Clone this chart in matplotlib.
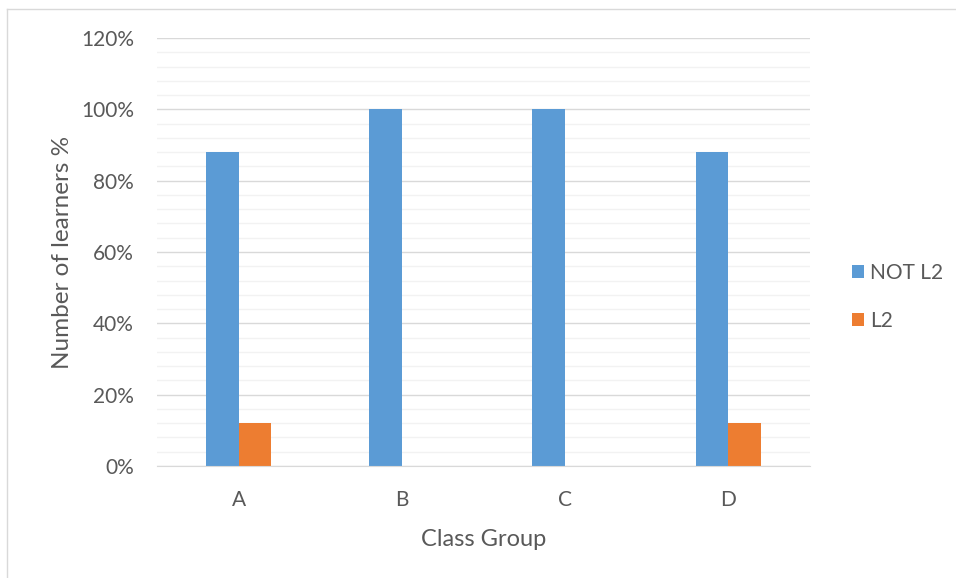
import matplotlib
matplotlib.use("Agg")
import matplotlib.pyplot as plt
import numpy as np
from matplotlib.ticker import MultipleLocator, FuncFormatter
from matplotlib.lines import Line2D

categories = ["A", "B", "C", "D"]
not_l2 = [88, 100, 100, 88]
l2 = [12, 0, 0, 12]
series_names = ["NOT L2", "L2"]
colors = ["#5B9BD5", "#ED7D31"]

plt.rcParams["font.family"] = ["Lato", "DejaVu Sans"]
text_color = "#595959"

fig = plt.figure(figsize=(9.56, 5.78), dpi=100)
ax = fig.add_axes([0.1642, 0.1938, 0.6831, 0.7405])

x = np.arange(len(categories))
w = 0.2
ax.bar(x - w / 2, not_l2, w, color=colors[0], label=series_names[0], zorder=3)
ax.bar(x + w / 2, l2, w, color=colors[1], label=series_names[1], zorder=3)

ax.set_xlim(-0.5, len(categories) - 0.5)
ax.set_ylim(0, 120)
ax.yaxis.set_major_locator(MultipleLocator(20))
ax.yaxis.set_minor_locator(MultipleLocator(4))
ax.yaxis.set_major_formatter(FuncFormatter(lambda v, p: f"{v:.0f}%"))
ax.grid(which="minor", axis="y", color="#F2F2F2", linewidth=1.0, zorder=0)
ax.grid(which="major", axis="y", color="#D9D9D9", linewidth=1.0, zorder=1)

ax.set_xticks(x)
ax.set_xticklabels(categories)
ax.tick_params(axis="both", which="both", length=0, labelsize=15, colors=text_color)
ax.tick_params(axis="x", pad=17)
ax.tick_params(axis="y", pad=16.5)

for s in ["top", "right", "left"]:
    ax.spines[s].set_visible(False)
ax.spines["bottom"].set_color("#D9D9D9")
ax.spines["bottom"].set_zorder(4)

ax.set_xlabel("Class Group", fontsize=17, color=text_color, labelpad=14)
ax.set_ylabel("Number of learners %", fontsize=17.5, color=text_color, labelpad=6)

ax.legend(loc="center left", bbox_to_anchor=(1.035, 0.395), frameon=False,
          fontsize=15, handlelength=0.6, handleheight=0.6,
          handletextpad=0.3, labelspacing=1.35, labelcolor=text_color)

# chart area border (left and top edges visible)
fig.add_artist(Line2D([0.0075, 0.0075], [0, 0.985], transform=fig.transFigure,
                      color="#D9D9D9", linewidth=1.0))
fig.add_artist(Line2D([0.0075, 1.0], [0.985, 0.985], transform=fig.transFigure,
                      color="#D9D9D9", linewidth=1.0))

fig.savefig("out.png", dpi=100)
